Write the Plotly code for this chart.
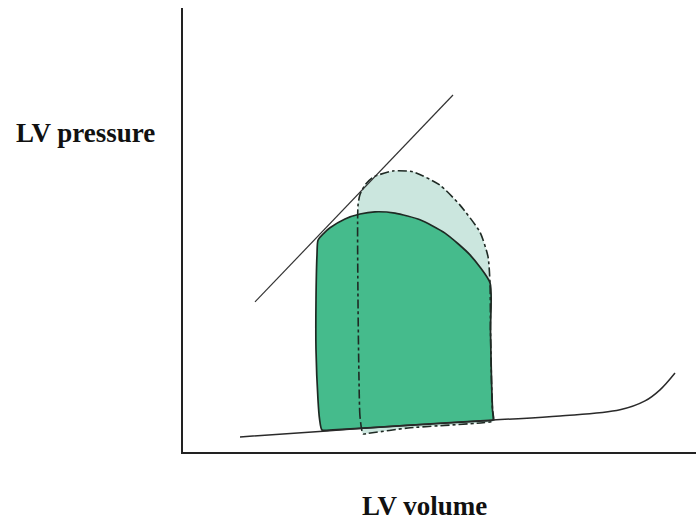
import plotly.graph_objects as go

# Pressure-volume loop schematic (arbitrary units)

# End-systolic pressure-volume relation (straight line)
espvr_volume = [14.4, 54.0]
espvr_pressure = [33.8, 80.4]

# End-diastolic pressure-volume relation (curve)
edpvr_volume = [11.4, 28.0, 43.4, 62.0, 75.4, 87.4, 92.4, 95.4, 98.4]
edpvr_pressure = [3.4, 4.7, 5.9, 7.2, 8.1, 9.5, 11.5, 14.0, 17.8]

# Baseline loop
base_volume = [27.8, 27.3, 27.0, 26.6, 26.6, 26.8, 27.0, 28.2, 29.4, 32.4,
               35.4, 38.4, 42.4, 47.4, 52.4, 57.4, 61.4, 61.5, 61.7, 61.9,
               62.0, 60.0, 45.0, 30.0, 27.8]
base_pressure = [4.95, 7.5, 11.7, 23.0, 34.2, 44.4, 47.7, 49.3, 50.5, 52.5,
                 53.6, 54.1, 53.8, 52.3, 49.3, 44.4, 38.1, 27.5, 16.2, 9.5,
                 7.2, 7.0, 6.0, 5.0, 4.95]

# Altered loop (smaller end-systolic volume, higher peak pressure)
alt_volume = [36.0, 35.4, 35.2, 35.0, 35.0, 35.4, 36.5, 38.0, 42.0, 46.0,
              51.4, 55.4, 59.4, 61.0, 61.4, 61.5, 61.7, 61.9, 62.1, 60.0,
              45.0, 37.0, 36.0]
alt_pressure = [4.1, 8.0, 16.2, 34.2, 55.5, 58.0, 60.3, 61.9, 63.3, 63.1,
                60.1, 55.6, 49.5, 44.0, 38.1, 27.5, 16.2, 9.5, 7.0, 6.6,
                5.4, 4.2, 4.1]

DARK_FILL = "#45bb8c"
LIGHT_FILL = "#cbe6de"
OUTLINE = "#1f2a24"
SMOOTH = 0.6

fig = go.Figure()

# altered loop fill (behind)
fig.add_trace(go.Scatter(
    x=alt_volume, y=alt_pressure, mode="lines", fill="toself",
    fillcolor=LIGHT_FILL,
    line=dict(color="rgba(0,0,0,0)", width=0, shape="spline", smoothing=SMOOTH),
    hoverinfo="skip", showlegend=False))

# baseline loop
fig.add_trace(go.Scatter(
    x=base_volume, y=base_pressure, mode="lines", fill="toself",
    fillcolor=DARK_FILL,
    line=dict(color=OUTLINE, width=1.7, shape="spline", smoothing=SMOOTH),
    hoverinfo="skip", showlegend=False))

# altered loop outline (dash-dot, on top)
fig.add_trace(go.Scatter(
    x=alt_volume, y=alt_pressure, mode="lines",
    line=dict(color=OUTLINE, width=1.6, dash="dashdot", shape="spline", smoothing=SMOOTH),
    hoverinfo="skip", showlegend=False))

# ESPVR
fig.add_trace(go.Scatter(
    x=espvr_volume, y=espvr_pressure, mode="lines",
    line=dict(color="#333333", width=1.2), hoverinfo="skip", showlegend=False))

# EDPVR
fig.add_trace(go.Scatter(
    x=edpvr_volume, y=edpvr_pressure, mode="lines",
    line=dict(color="#2a2a2a", width=1.5, shape="spline", smoothing=1.0),
    hoverinfo="skip", showlegend=False))

label_font = dict(family="Liberation Serif, Times New Roman, serif", size=27, color="#111111")

fig.update_layout(
    width=696, height=522,
    margin=dict(l=183, r=0, t=8, b=70),
    paper_bgcolor="white", plot_bgcolor="white",
    xaxis=dict(range=[0, 102.6], showgrid=False, zeroline=False, showticklabels=False,
               ticks="", showline=True, linecolor="#222222", linewidth=2, fixedrange=True),
    yaxis=dict(range=[0, 100], showgrid=False, zeroline=False, showticklabels=False,
               ticks="", showline=True, linecolor="#222222", linewidth=2, fixedrange=True),
    annotations=[
        dict(text="<b>LV pressure</b>", xref="paper", yref="paper",
             x=-0.33, y=0.718, xanchor="left", yanchor="middle",
             showarrow=False, font=label_font),
        dict(text="<b>LV volume</b>", xref="paper", yref="paper",
             x=0.47, y=-0.122, xanchor="center", yanchor="middle",
             showarrow=False, font=label_font),
    ],
)

fig.write_html("out.html")
